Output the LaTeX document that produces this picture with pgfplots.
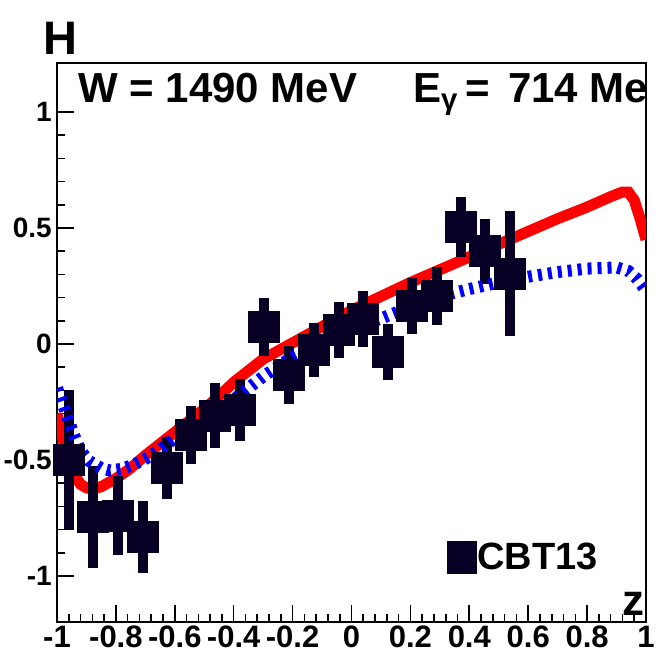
\documentclass[border=0pt]{standalone}
\usepackage{fontspec}
\setmainfont{Liberation Sans}
\usepackage{pgfplots}
\pgfplotsset{compat=1.18}
\definecolor{navy}{RGB}{8,0,36}
\pgfplotstableread{
x y
-1.00 -0.30
-0.98 -0.41
-0.96 -0.50
-0.94 -0.565
-0.92 -0.605
-0.90 -0.62
-0.88 -0.625
-0.85 -0.615
-0.80 -0.58
-0.75 -0.535
-0.70 -0.48
-0.65 -0.43
-0.60 -0.38
-0.55 -0.33
-0.50 -0.28
-0.45 -0.225
-0.40 -0.165
-0.35 -0.115
-0.30 -0.065
-0.25 -0.03
-0.20 0.005
-0.10 0.075
0.00 0.145
0.10 0.205
0.20 0.265
0.30 0.32
0.40 0.375
0.50 0.43
0.60 0.485
0.70 0.54
0.80 0.59
0.88 0.635
0.92 0.655
0.94 0.655
0.96 0.62
0.98 0.54
1.00 0.45
}\redcurve
\pgfplotstableread{
x y
-1.00 -0.19
-0.98 -0.26
-0.96 -0.33
-0.94 -0.40
-0.92 -0.46
-0.89 -0.505
-0.85 -0.535
-0.82 -0.545
-0.78 -0.538
-0.74 -0.52
-0.70 -0.495
-0.65 -0.455
-0.60 -0.405
-0.52 -0.34
-0.45 -0.28
-0.40 -0.24
-0.30 -0.14
-0.20 -0.055
-0.10 0.005
0.00 0.06
0.10 0.11
0.20 0.16
0.30 0.205
0.40 0.237
0.50 0.265
0.60 0.29
0.70 0.31
0.80 0.325
0.90 0.33
0.94 0.315
0.97 0.28
1.00 0.23
}\bluecurve
\pgfplotstableread{
x y e
-0.960 -0.500 0.300
-0.878 -0.745 0.220
-0.793 -0.740 0.170
-0.708 -0.830 0.155
-0.626 -0.535 0.135
-0.545 -0.390 0.125
-0.463 -0.310 0.140
-0.379 -0.285 0.135
-0.297 0.073 0.125
-0.212 -0.134 0.125
-0.127 -0.026 0.115
-0.042 0.060 0.120
0.039 0.108 0.120
0.124 -0.034 0.120
0.205 0.164 0.120
0.290 0.207 0.125
0.372 0.504 0.130
0.453 0.400 0.140
0.538 0.305 0.270
}\cbtdata
\begin{document}
\begin{tikzpicture}[x=1pt,y=1pt]
\begin{axis}[
  name=ax, at={(0,0)}, anchor=south west,
  scale only axis, width=589pt, height=559pt,
  xmin=-1, xmax=1, ymin=-1.198, ymax=1.211,
  axis line style={line width=1.6pt},
  every tick/.style={line width=1.6pt, black},
  major tick length=17pt, minor tick length=8.5pt,
  tick align=inside, xtick pos=left, ytick pos=left,
  xtick={-1,-0.8,-0.6,-0.4,-0.2,0,0.2,0.4,0.6,0.8,1},
  xticklabels={-1,-0.8,-0.6,-0.4,-0.2,0,0.2,0.4,0.6,0.8,1},
  ytick={-1,-0.5,0,0.5,1},
  yticklabels={-1,-0.5,0,0.5,1},
  minor x tick num=4, minor y tick num=4,
  xticklabel style={font=\bfseries\fontsize{31}{31}\selectfont, anchor=north, inner sep=0pt, yshift=-4pt},
  yticklabel style={font=\bfseries\fontsize{28}{28}\selectfont, anchor=east, inner sep=0pt, xshift=-5pt},
  xlabel={z},
  xlabel style={at={(rel axis cs:1,0)}, anchor=south east, inner sep=0pt,
    font=\bfseries\fontsize{44}{44}\selectfont, xshift=-1pt, yshift=6pt},
  legend style={draw=none, fill=none, at={(rel axis cs:0.662,0.116)}, anchor=west,
    inner sep=0pt, outer sep=0pt, font=\bfseries\fontsize{38}{38}\selectfont,
    nodes={inner sep=1pt},
    /tikz/every even column/.append style={column sep=0pt}},
  legend image code/.code={\fill[navy] (0pt,-16pt) rectangle (29pt,16pt);},
]
\addplot[red, line width=11pt, forget plot] table[x=x,y=y]{\redcurve};
\addplot[navy, only marks, mark=square*, mark size=15.5pt,
  error bars/.cd, y dir=both, y explicit, error mark=none,
  error bar style={line width=10pt, navy}]
  table[x=x,y=y,y error=e]{\cbtdata};
\addlegendentry{CBT13}
\addplot[blue, line width=12pt, dash pattern=on 4pt off 6pt, forget plot] table[x=x,y=y]{\bluecurve};
\end{axis}
\node[anchor=base west, inner sep=0pt, font=\bfseries\fontsize{47}{47}\selectfont] at (-14,567) {H};
\begin{scope}
\clip (0,0) rectangle (589,559);
\node[anchor=base west, inner sep=0pt, font=\bfseries\fontsize{42}{42}\selectfont] at (21,519) {W = 1490 MeV};
\node[anchor=base west, inner sep=0pt, font=\bfseries\fontsize{42}{42}\selectfont] at (356,519) {E\textsubscript{γ}};
\node[anchor=base west, inner sep=0pt, font=\bfseries\fontsize{42}{42}\selectfont] at (408,519) {=};
\node[anchor=base west, inner sep=0pt, font=\bfseries\fontsize{42}{42}\selectfont] at (451,519) {714 MeV};
\end{scope}
\pgfresetboundingbox
\path[use as bounding box] (-57,-35) rectangle (600,622);
\end{tikzpicture}
\end{document}
